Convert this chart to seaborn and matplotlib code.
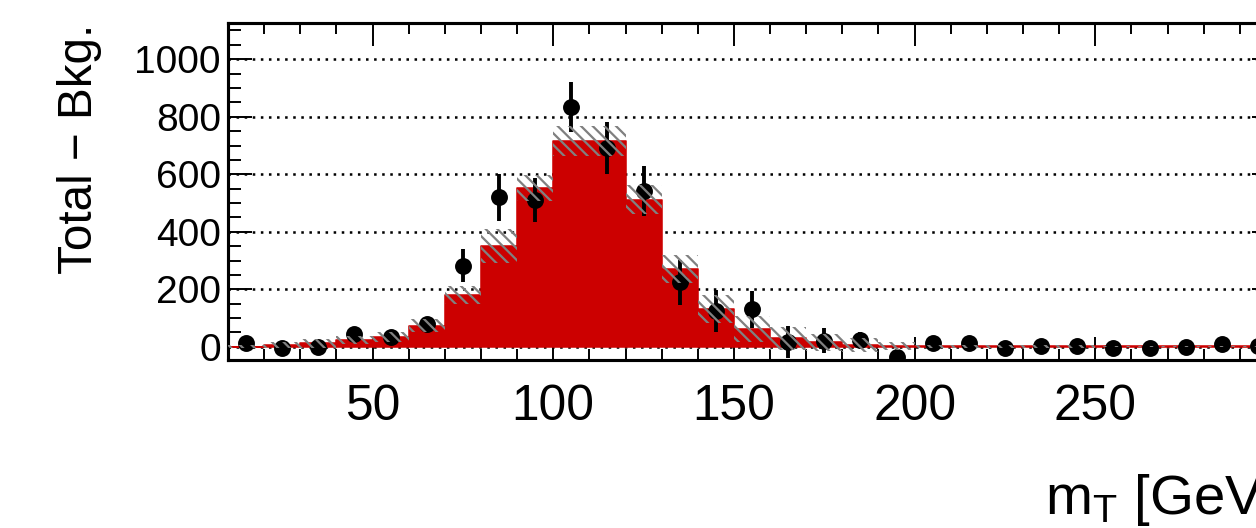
import numpy as np
import pandas as pd
import matplotlib
matplotlib.use("Agg")
import matplotlib.pyplot as plt
import seaborn as sns
from matplotlib.ticker import MultipleLocator, FixedLocator

# ---------------- data ----------------
bin_edges = list(range(10, 301, 10))
signal = [0, 6, 12, 23, 35, 73, 180, 350, 552, 717, 717, 511, 271, 131, 62,
          30, 15, 7, 3, 1, 1, 1, 1, 1, 1, 1, 1, 1, 1]
signal_err = [5, 10, 15, 15, 18, 22, 32, 58, 45, 52, 52, 50, 48, 48, 45,
              40, 30, 25, 13, 6, 5, 5, 4, 4, 3, 3, 3, 3, 3]
data = [13, -6, -1, 44, 33, 79, 282, 520, 511, 834, 691, 541, 224, 125, 131,
        17, 21, 23, -37, 12, 13, -6, 2, 1, -4, -6, 0, 9, 4]
data_err = [12, 12, 14, 18, 20, 23, 58, 82, 77, 86, 89, 87, 77, 73, 64,
            55, 43, 28, 15, 10, 10, 10, 10, 10, 10, 10, 10, 10, 10]
xtick_values = [50, 100, 150, 200, 250]
ytick_values = [0, 200, 400, 600, 800, 1000]
x_label = r"m$_{\mathrm{T}}$ [GeV]"
y_label = "Total \u2212 Bkg."

# ---------------- style ----------------
sns.set_style("white")
plt.rcParams["font.family"] = ["Liberation Sans", "DejaVu Sans"]
plt.rcParams["mathtext.fontset"] = "custom"
plt.rcParams["mathtext.rm"] = "Liberation Sans"
plt.rcParams["mathtext.it"] = "Liberation Sans:italic"
plt.rcParams["mathtext.bf"] = "Liberation Sans:bold"
plt.rcParams["hatch.linewidth"] = 1.15
plt.rcParams["hatch.color"] = "#808080"
for key in ["text.color", "axes.labelcolor", "xtick.color", "ytick.color",
            "axes.edgecolor"]:
    plt.rcParams[key] = "black"

DPI = 140
fig = plt.figure(figsize=(1256 / DPI, 528 / DPI), dpi=DPI)
fig.patch.set_facecolor("white")
ax = fig.add_axes([228 / 1256, 1 - 360 / 528, (1276 - 228) / 1256, (360 - 23.3) / 528])

edges = np.array(bin_edges, dtype=float)
centers = 0.5 * (edges[:-1] + edges[1:])
widths = np.diff(edges)
sig = np.array(signal, dtype=float)
sig_e = np.array(signal_err, dtype=float)

df = pd.DataFrame({"mT": centers, "signal": sig})
sns.histplot(data=df, x="mT", weights="signal", bins=bin_edges, element="step",
             fill=True, color="#cc0000", alpha=1.0, linewidth=0.8,
             edgecolor="#cc0000", ax=ax)

# data points
ax.errorbar(centers, data, yerr=data_err, fmt="o", color="black",
            markersize=8.7, markeredgewidth=0, elinewidth=2.0, capsize=0,
            zorder=4)

# hatched uncertainty band (drawn on top, like the reference)
ax.bar(centers, 2 * sig_e, bottom=sig - sig_e, width=widths, fill=False,
       hatch="\\\\\\\\", edgecolor="#808080", linewidth=0, zorder=5)

# axes ranges and ticks
ax.set_xlim(10, 300)
ax.set_ylim(-46, 1125)
ax.xaxis.set_major_locator(FixedLocator(xtick_values))
ax.xaxis.set_minor_locator(MultipleLocator(10))
ax.yaxis.set_major_locator(FixedLocator(ytick_values))
ax.yaxis.set_minor_locator(MultipleLocator(50))

ax.yaxis.grid(True, which="major", color="black", linestyle=(0, (1, 2.2)),
              linewidth=1.3)
ax.xaxis.grid(False)
ax.set_axisbelow(True)

ax.tick_params(which="both", direction="in", top=True, right=True,
               bottom=True, left=True, color="black", labelcolor="black")
ax.tick_params(axis="x", which="major", length=11.7, width=1.0,
               labelsize=25.5, pad=12.5)
ax.tick_params(axis="x", which="minor", length=5.7, width=1.0)
ax.tick_params(axis="y", which="major", length=12.3, width=1.0,
               labelsize=20, pad=3.6)
ax.tick_params(axis="y", which="minor", length=6.5, width=1.0)
for s in ax.spines.values():
    s.set_linewidth(1.6)
    s.set_color("black")

ax.set_xlabel(x_label, fontsize=29, loc="right", color="black")
ax.xaxis.set_label_coords(1.0, -0.457)
ax.xaxis.label.set_va("baseline")
ax.set_ylabel(y_label, fontsize=24.5, loc="top", color="black")
ax.yaxis.set_label_coords((92 - 228) / 1048, 1.0)
ax.yaxis.label.set_va("baseline")

fig.savefig("out.png", dpi=DPI, facecolor="white")
